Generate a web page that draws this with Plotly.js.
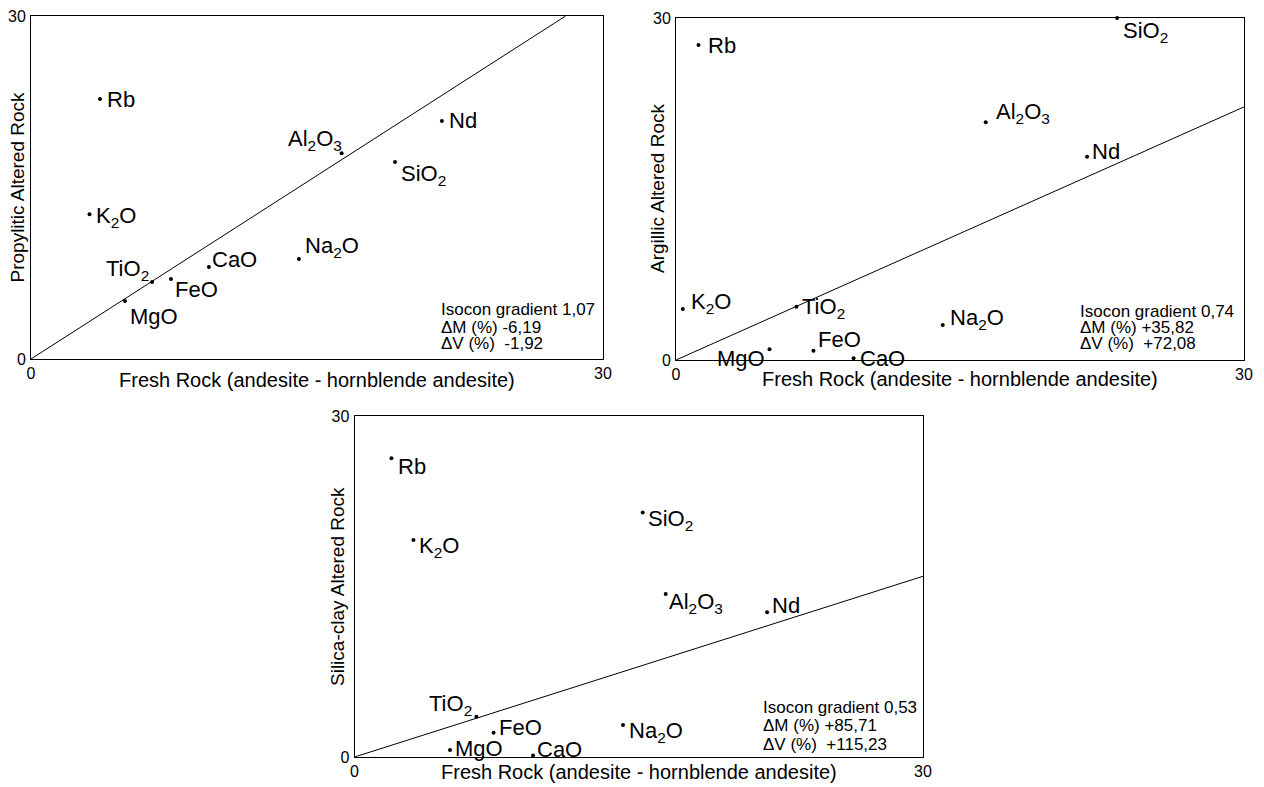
<!DOCTYPE html>
<html>
<head>
<meta charset="utf-8">
<script src="https://cdn.plot.ly/plotly-3.0.1.min.js"></script>
<style>
  html, body { margin: 0; padding: 0; background: #fff; }
  #chart { width: 1264px; height: 787px; }
</style>
</head>
<body>
<div id="chart"></div>
<script>
// ---------------- DATA ----------------
const categories = ['Rb', 'K2O', 'TiO2', 'MgO', 'FeO', 'CaO', 'Na2O', 'Al2O3', 'SiO2', 'Nd'];
const labelText = ['Rb', 'K<sub>2</sub>O', 'TiO<sub>2</sub>', 'MgO', 'FeO', 'CaO',
                   'Na<sub>2</sub>O', 'Al<sub>2</sub>O<sub>3</sub>', 'SiO<sub>2</sub>', 'Nd'];

// Propylitic panel
const propFresh   = [3.62, 3.07, 6.35, 4.93, 7.34, 9.33, 14.05, 16.29, 19.09, 21.55];
const propAltered = [22.74, 12.66, 6.73, 5.07, 7.00, 8.05, 8.75, 17.99, 17.23, 20.82];
// Argillic panel
const argFresh    = [1.19, 0.36, 6.36, 4.94, 7.26, 9.38, 14.09, 16.36, 23.30, 21.71];
const argAltered  = [27.63, 4.47, 4.68, 0.94, 0.82, 0.15, 3.07, 20.85, 30.00, 17.83];
// Silica-clay panel
const silFresh    = [1.95, 3.11, 6.43, 5.04, 7.34, 9.42, 14.17, 16.42, 15.21, 21.77];
const silAltered  = [26.28, 19.09, 3.55, 0.62, 2.14, 0.13, 2.81, 14.33, 21.50, 12.73];

const panelNames  = ['Propylitic Altered Rock', 'Argillic Altered Rock', 'Silica-clay Altered Rock'];
const isoconGradient = [1.07, 0.74, 0.53];
const isoconGradientText = ['1,07', '0,74', '0,53'];
const deltaM = ['-6,19', '+35,82', '+85,71'];
const deltaV = ['-1,92', '+72,08', '+115,23'];
const axisMax = 30;
const xTitle = 'Fresh Rock (andesite - hornblende andesite)';

// ---------------- LAYOUT / STYLE ----------------
const FONT = '"Liberation Sans", Arial, Helvetica, sans-serif';
const domains = [
  { x: [31/1264, 603/1264],    y: [1 - 359/787, 1 - 16/787] },
  { x: [676/1264, 1244/1264],  y: [1 - 360/787, 1 - 18/787] },
  { x: [354.5/1264, 923/1264], y: [1 - 757/787, 1 - 416/787] }
];
// label offsets per panel: [dx px, dy px (down), anchor]
const labelPos = [
  { Rb:[6,0,'left'], K2O:[5,3,'left'], TiO2:[-2,-12,'right'], MgO:[4,15,'left'], FeO:[3,11,'left'],
    CaO:[2,-7,'left'], Na2O:[5,-12,'left'], Al2O3:[1,-13,'right'], SiO2:[5,13,'left'], Nd:[6,0,'left'] },
  { Rb:[8,0,'left'], K2O:[7,-6,'left'], TiO2:[5,1,'left'], MgO:[-4,9,'right'], FeO:[4,-11,'left'],
    CaO:[5,0,'left'], Na2O:[6,-6,'left'], Al2O3:[9,-9,'left'], SiO2:[5,14,'left'], Nd:[4,-5,'left'] },
  { Rb:[6,8,'left'], K2O:[5,7,'left'], TiO2:[-3,-12,'right'], MgO:[4,-1,'left'], FeO:[4,-5,'left'],
    CaO:[3,-6,'left'], Na2O:[5,7,'left'], Al2O3:[2,9,'left'], SiO2:[4,7,'left'], Nd:[4,-7,'left'] }
];
const xTitleShift = [-21, -19, -15];
const yTitleShift = [-14, -19, -17];
const isoBox = [
  { x: 0.715, y: [0.143, 0.093, 0.046] },
  { x: 0.7095, y: [0.143, 0.0936, 0.0497] },
  { x: 0.717, y: [0.145, 0.091, 0.038] }
];

const freshSets = [propFresh, argFresh, silFresh];
const alteredSets = [propAltered, argAltered, silAltered];

const traces = [];
const annotations = [];
const layout = {
  width: 1264, height: 787,
  margin: { l: 0, r: 0, t: 0, b: 0 },
  paper_bgcolor: '#fff', plot_bgcolor: '#fff',
  showlegend: false,
  font: { family: FONT, color: '#000', size: 16 }
};

for (let p = 0; p < 3; p++) {
  const sx = p === 0 ? '' : String(p + 1);
  const xa = 'x' + sx, ya = 'y' + sx;
  const axCommon = {
    range: [0, axisMax], showgrid: false, zeroline: false,
    showline: true, mirror: true, linecolor: '#000', linewidth: 1,
    ticks: '', tickvals: [0, axisMax], ticktext: ['0', String(axisMax)],
    tickfont: { family: FONT, size: 16, color: '#000' },
    fixedrange: true
  };
  layout['xaxis' + sx] = Object.assign({}, axCommon, { domain: domains[p].x, anchor: ya });
  layout['yaxis' + sx] = Object.assign({}, axCommon, { domain: domains[p].y, anchor: xa, ticklabelstandoff: 1 });

  // isocon line
  const g = isoconGradient[p];
  const xEnd = Math.min(axisMax, axisMax / g);
  traces.push({
    type: 'scatter', mode: 'lines', xaxis: xa, yaxis: ya,
    x: [0, xEnd], y: [0, g * xEnd],
    line: { color: '#000', width: 1 }, hoverinfo: 'skip', cliponaxis: false
  });
  // points
  traces.push({
    type: 'scatter', mode: 'markers', xaxis: xa, yaxis: ya,
    x: freshSets[p], y: alteredSets[p], text: categories,
    marker: { color: '#000', size: 4 }, cliponaxis: false
  });
  // point labels
  categories.forEach((c, i) => {
    const lp = labelPos[p][c];
    annotations.push({
      xref: xa, yref: ya, x: freshSets[p][i], y: alteredSets[p][i],
      text: labelText[i], showarrow: false, borderpad: 0,
      xanchor: lp[2], yanchor: 'middle', xshift: lp[0], yshift: -lp[1],
      font: { family: FONT, size: 22, color: '#000' }
    });
  });
  // axis titles
  annotations.push({
    xref: xa + ' domain', yref: ya + ' domain', x: 0.5, y: 0,
    text: xTitle, showarrow: false, xanchor: 'center', yanchor: 'middle', borderpad: 0,
    yshift: xTitleShift[p], font: { family: FONT, size: 20, color: '#000' }
  });
  annotations.push({
    xref: xa + ' domain', yref: ya + ' domain', x: 0, y: 0.5,
    text: panelNames[p], showarrow: false, xanchor: 'center', yanchor: 'middle', borderpad: 0,
    textangle: -90, xshift: yTitleShift[p], font: { family: FONT, size: 19, color: '#000' }
  });
  // isocon stats
  const lines = [
    'Isocon gradient ' + isoconGradientText[p],
    '\u0394M (%) ' + deltaM[p],
    '\u0394V (%)\u00A0\u00A0' + deltaV[p]
  ];
  lines.forEach((t, k) => {
    annotations.push({
      xref: xa + ' domain', yref: ya + ' domain', x: isoBox[p].x, y: isoBox[p].y[k],
      text: t, showarrow: false, xanchor: 'left', yanchor: 'middle', borderpad: 0,
      font: { family: FONT, size: 17, color: '#000' }
    });
  });
}
layout.annotations = annotations;

Plotly.newPlot('chart', traces, layout, { displayModeBar: false, staticPlot: true });
</script>
</body>
</html>
